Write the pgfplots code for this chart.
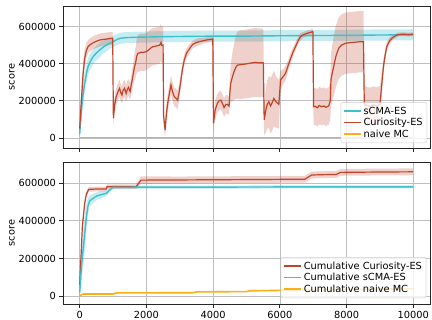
\documentclass[border=0pt]{standalone}
\usepackage{pgfplots}
\pgfplotsset{compat=1.18}
\usepackage{pgfplotstable}
\usepgfplotslibrary{fillbetween}
\usepackage{fontspec}
\setmainfont{DejaVu Sans}
\definecolor{colcma}{HTML}{3FBFCE}
\definecolor{colcur}{HTML}{C0432A}
\definecolor{colmc}{HTML}{FFAD14}

% top: Curiosity-ES  (x, mean, half band)
\pgfplotstableread{
x y e
0 50000 30000
50 200000 60000
100 340000 60000
150 428000 50000
200 470000 40000
250 491000 35000
300 500000 35000
400 512000 35000
500 520000 35000
600 527000 35000
700 530000 35000
800 532000 35000
900 535000 35000
990 536000 35000
1010 106000 40000
1050 180000 45000
1095 222000 45000
1150 250000 45000
1195 267000 45000
1230 245000 45000
1265 231000 45000
1300 255000 45000
1343 267000 45000
1393 240000 45000
1430 262000 45000
1463 272000 45000
1513 250000 45000
1550 290000 50000
1592 330000 60000
1640 380000 70000
1672 401000 80000
1710 440000 90000
1742 455000 100000
1800 458000 100000
1850 462000 100000
1900 460000 100000
1990 464000 100000
2040 470000 100000
2090 477000 100000
2140 485000 100000
2189 491000 100000
2240 492000 100000
2289 495000 100000
2350 497000 100000
2400 500000 100000
2438 514000 100000
2460 498000 100000
2500 500000 100000
2515 120000 50000
2560 43000 40000
2600 130000 50000
2637 186000 50000
2680 230000 50000
2736 285000 50000
2780 250000 50000
2836 222000 50000
2880 215000 50000
2935 204000 50000
2985 250000 40000
3035 312000 40000
3080 370000 30000
3134 419000 30000
3200 455000 25000
3284 478000 25000
3350 495000 20000
3400 505000 20000
3483 512000 20000
3580 518000 20000
3682 522000 15000
3800 527000 15000
3900 530000 15000
3990 532000 15000
4010 79000 40000
4060 150000 50000
4129 187000 50000
4180 200000 50000
4229 204000 50000
4280 185000 50000
4328 164000 50000
4380 180000 50000
4428 181000 50000
4478 172000 50000
4500 240000 60000
4527 294000 100000
4580 330000 130000
4627 357000 150000
4680 380000 170000
4726 392000 180000
4800 394000 185000
4900 396000 185000
4975 398000 185000
5100 402000 185000
5200 405000 185000
5274 407000 185000
5380 404000 185000
5473 405000 185000
5505 404000 180000
5530 97000 80000
5580 150000 120000
5622 181000 130000
5670 195000 140000
5721 172000 150000
5770 190000 150000
5820 213000 150000
5880 195000 140000
5970 181000 130000
6020 312000 50000
6100 330000 40000
6169 348000 40000
6250 390000 30000
6318 425000 30000
6400 465000 25000
6468 491000 25000
6540 520000 20000
6617 545000 20000
6700 555000 15000
6816 563000 15000
6900 567000 15000
6965 571000 15000
6990 571000 15000
7010 168000 100000
7065 170000 100000
7120 162000 100000
7180 175000 100000
7250 168000 100000
7320 172000 100000
7380 165000 100000
7463 172000 100000
7510 200000 100000
7532 312000 140000
7570 350000 150000
7612 383000 160000
7680 440000 165000
7761 482000 165000
7850 500000 165000
7960 509000 165000
8100 513000 165000
8250 515000 165000
8400 518000 165000
8507 518000 165000
8530 180000 100000
8600 175000 100000
8700 170000 100000
8800 178000 100000
8900 172000 100000
9000 180000 100000
9060 300000 60000
9104 383000 40000
9150 440000 30000
9204 491000 25000
9280 520000 20000
9353 536000 15000
9450 548000 12000
9552 557000 10000
9700 558000 10000
9850 557000 10000
9990 558000 10000
}\curtop

% top: sCMA-ES
\pgfplotstableread{
x y e
0 20000 30000
50 150000 60000
100 230000 60000
150 294000 55000
200 345000 50000
250 383000 45000
300 405000 45000
400 437000 40000
500 457000 40000
600 473000 40000
700 488000 35000
800 500000 35000
900 510000 30000
1000 518000 30000
1100 528000 30000
1195 536000 30000
1400 540000 30000
1700 542000 30000
2000 543000 30000
2500 545000 30000
3000 546000 30000
3500 547000 30000
4000 548000 30000
5000 548000 30000
6000 550000 30000
7000 551000 30000
8000 552000 30000
9000 554000 30000
9990 555000 30000
}\cmatop

% top: naive MC
\pgfplotstableread{
x y
0 3000
2000 3000
4000 3000
6000 3000
8000 3000
9990 3000
}\mctop

% bottom: cumulative Curiosity-ES
\pgfplotstableread{
x y e
0 60000 20000
50 250000 25000
80 368000 25000
150 492000 20000
200 540000 15000
270 566000 12000
500 568000 12000
800 568000 12000
820 580000 12000
1200 580000 12000
1690 580000 12000
1840 615000 20000
3000 616000 18000
5000 618000 18000
6750 620000 18000
6950 642000 18000
7300 644000 18000
7690 645000 18000
7820 656000 18000
9000 658000 18000
9990 659000 18000
}\curbot

% bottom: cumulative sCMA-ES
\pgfplotstableread{
x y e
0 20000 40000
50 150000 80000
100 240000 90000
150 330000 90000
200 420000 70000
250 480000 40000
300 505000 30000
400 518000 25000
500 530000 20000
600 536000 20000
800 545000 15000
880 560000 12000
1000 577000 10000
2000 578000 8000
4000 578000 8000
6000 579000 8000
8000 579000 8000
9990 579000 8000
}\cmabot

% bottom: cumulative naive MC
\pgfplotstableread{
x y
0 2000
100 12000
1000 12000
1100 18000
3400 19000
3500 23000
5000 25000
5100 29000
6700 33000
8000 36000
9990 40000
}\mcbot

\pgfplotsset{
  myax/.style={
    scale only axis, width=367bp, height=142bp,
    xmin=-500, xmax=10500,
    xtick={0,2000,4000,6000,8000,10000},
    ytick={0,200000,400000,600000},
    yticklabels={0,200000,400000,600000},
    scaled ticks=false,
    grid=major,
    major grid style={color=black!25, line width=0.7bp},
    axis line style={color=black!85, line width=0.8bp},
    tick style={color=black!85, line width=0.8bp},
    tick align=outside, tick pos=left,
    major tick length=3.5bp,
    font=\fontsize{9.8bp}{11.5bp}\selectfont,
    ylabel={score},
    every axis y label/.style={at={(axis description cs:-0.139,0.5)}, rotate=90, anchor=center},
    legend cell align=left,
    legend style={draw=black!20, rounded corners=2bp, fill=white, fill opacity=0.8, draw opacity=1, text opacity=1,
      font=\fontsize{9.8bp}{11.5bp}\selectfont, inner sep=2bp, row sep=-1.8bp,
      nodes={inner sep=2.2bp}},
  }
}

\begin{document}
\begin{tikzpicture}
\begin{axis}[myax, at={(0,0)}, anchor=south west,
  ymin=-54000, ymax=710000, xticklabels={},
  legend style={at={(0.992,0.035)}, anchor=south east}]
  % sCMA-ES
  \addplot[name path=cu, draw=none, forget plot] table[x=x, y expr=\thisrow{y}+\thisrow{e}] {\cmatop};
  \addplot[name path=cl, draw=none, forget plot] table[x=x, y expr=\thisrow{y}-\thisrow{e}] {\cmatop};
  \addplot[fill=colcma, fill opacity=0.3, draw=none, forget plot] fill between[of=cu and cl];
  \addplot[color=colcma, line width=1.4bp, forget plot] table[x=x, y=y] {\cmatop};
  % Curiosity-ES
  \addplot[name path=ru, draw=none, forget plot] table[x=x, y expr=\thisrow{y}+\thisrow{e}] {\curtop};
  \addplot[name path=rl, draw=none, forget plot] table[x=x, y expr=\thisrow{y}-\thisrow{e}] {\curtop};
  \addplot[fill=colcur, fill opacity=0.25, draw=none, forget plot] fill between[of=ru and rl];
  \addplot[color=colcur, line width=1.2bp, forget plot] table[x=x, y=y] {\curtop};
  % naive MC
  \addplot[color=colmc, line width=1.6bp, forget plot] table[x=x, y=y] {\mctop};
  \addlegendimage{color=colcma, line width=1.6bp}
  \addlegendentry{sCMA-ES}
  \addlegendimage{color=colcur, line width=1.6bp}
  \addlegendentry{Curiosity-ES}
  \addlegendimage{color=colmc, line width=1.6bp}
  \addlegendentry{naive MC}
\end{axis}

\begin{axis}[myax, at={(0,-156bp)}, anchor=south west,
  ymin=-40800, ymax=711000,
  xticklabels={0,2000,4000,6000,8000,10000},
  legend style={at={(0.99,0.042)}, anchor=south east}]
  % Cumulative Curiosity-ES
  \addplot[name path=bru, draw=none, forget plot] table[x=x, y expr=\thisrow{y}+\thisrow{e}] {\curbot};
  \addplot[name path=brl, draw=none, forget plot] table[x=x, y expr=\thisrow{y}-\thisrow{e}] {\curbot};
  \addplot[fill=colcur, fill opacity=0.25, draw=none, forget plot] fill between[of=bru and brl];
  \addplot[color=colcur, line width=1.2bp, forget plot] table[x=x, y=y] {\curbot};
  % Cumulative sCMA-ES
  \addplot[name path=bcu, draw=none, forget plot] table[x=x, y expr=\thisrow{y}+\thisrow{e}] {\cmabot};
  \addplot[name path=bcl, draw=none, forget plot] table[x=x, y expr=\thisrow{y}-\thisrow{e}] {\cmabot};
  \addplot[fill=colcma, fill opacity=0.3, draw=none, forget plot] fill between[of=bcu and bcl];
  \addplot[color=colcma, line width=1.4bp, forget plot] table[x=x, y=y] {\cmabot};
  % Cumulative naive MC
  \addplot[color=colmc, line width=1.6bp, forget plot] table[x=x, y=y] {\mcbot};
  \addlegendimage{color=colcur, line width=1.6bp}
  \addlegendentry{Cumulative Curiosity-ES}
  \addlegendimage{color=colcma, line width=1.6bp}
  \addlegendentry{Cumulative sCMA-ES}
  \addlegendimage{color=colmc, line width=1.6bp}
  \addlegendentry{Cumulative naive MC}
\end{axis}
\pgfresetboundingbox
\path[use as bounding box] (-63bp,148bp) rectangle (369bp,-172bp);
\end{tikzpicture}
\end{document}
